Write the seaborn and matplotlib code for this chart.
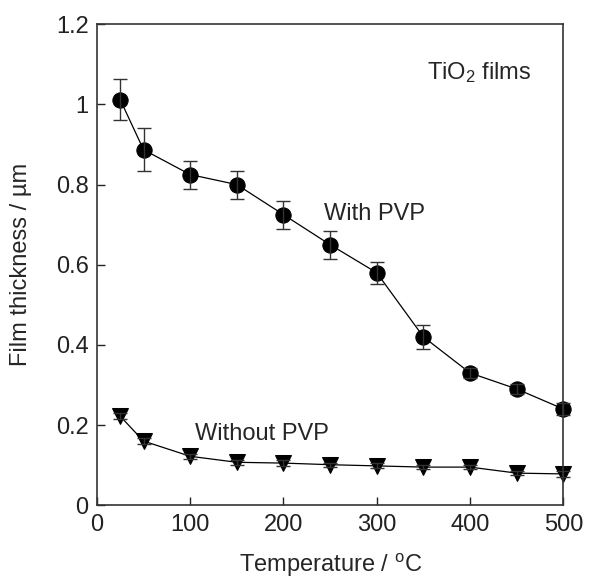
import matplotlib
matplotlib.use("Agg")
import matplotlib.pyplot as plt
import seaborn as sns
import pandas as pd

temp = [25, 50, 100, 150, 200, 250, 300, 350, 400, 450, 500]
with_pvp = [1.012, 0.887, 0.825, 0.80, 0.725, 0.65, 0.58, 0.42, 0.33, 0.29, 0.24]
with_err = [0.052, 0.053, 0.035, 0.035, 0.035, 0.035, 0.028, 0.03, 0.013, 0.012, 0.014]
without_pvp = [0.222, 0.16, 0.122, 0.107, 0.105, 0.101, 0.098, 0.095, 0.095, 0.08, 0.078]
without_err = [0.008, 0.008, 0.006, 0.006, 0.008, 0.005, 0.006, 0.005, 0.005, 0.005, 0.008]

sns.set_theme(style="ticks")
plt.rcParams['font.family'] = ['Liberation Sans', 'DejaVu Sans']

fig, ax = plt.subplots(figsize=(5.98, 5.78), dpi=100)
fig.subplots_adjust(left=0.162, right=0.942, top=0.958, bottom=0.126)

df1 = pd.DataFrame({"T": temp, "y": with_pvp})
df2 = pd.DataFrame({"T": temp, "y": without_pvp})
sns.lineplot(data=df1, x="T", y="y", ax=ax, color="black", lw=0.9,
             marker="o", markersize=11, markeredgecolor="black", clip_on=False)
sns.lineplot(data=df2, x="T", y="y", ax=ax, color="black", lw=0.9,
             marker="v", markersize=12, markeredgecolor="black", clip_on=False)
ax.errorbar(temp, with_pvp, yerr=with_err, fmt="none", ecolor="#333333",
            elinewidth=1, capsize=5, capthick=1, clip_on=False)
ax.errorbar(temp, without_pvp, yerr=without_err, fmt="none", ecolor="#333333",
            elinewidth=1, capsize=5, capthick=1, clip_on=False)

ax.set_xlim(0, 500)
ax.set_ylim(0, 1.2)
ax.set_xticks([0, 100, 200, 300, 400, 500])
ax.set_yticks([0, 0.2, 0.4, 0.6, 0.8, 1.0, 1.2])
ax.set_yticklabels(["0", "0.2", "0.4", "0.6", "0.8", "1", "1.2"])
ax.tick_params(direction="in", length=6, width=1, labelsize=17, colors="#222222",
               top=False, right=False, pad=6)
for s in ax.spines.values():
    s.set_color("#333333")
    s.set_linewidth(1.2)

ax.set_xlabel("Temperature / $\\mathregular{^{o}}$C", fontsize=17, labelpad=12)
ax.set_ylabel("Film thickness / µm", fontsize=17, labelpad=17)

ax.text(354, 1.08, "TiO$\\mathregular{_2}$ films", fontsize=17, va="center")
ax.text(243, 0.727, "With PVP", fontsize=17, va="center")
ax.text(105, 0.178, "Without PVP", fontsize=17, va="center")

fig.savefig("out.png", dpi=100)
